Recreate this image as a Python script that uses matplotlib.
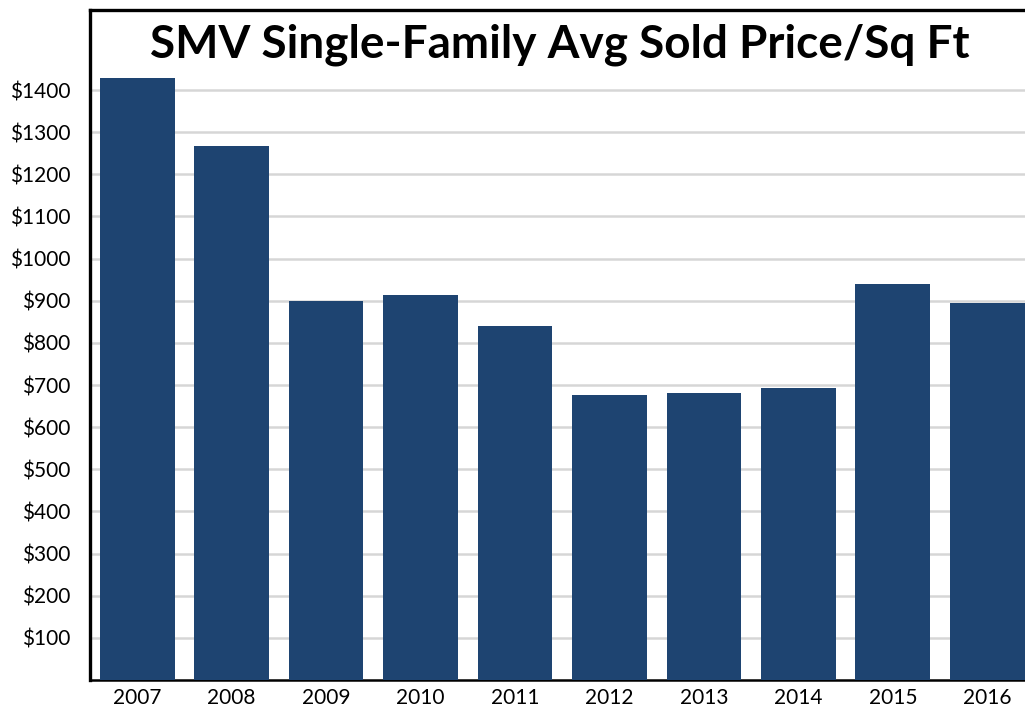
import matplotlib.pyplot as plt

years = ['2007', '2008', '2009', '2010', '2011', '2012', '2013', '2014', '2015', '2016']
price_sqft = [1429, 1267, 900, 914, 840, 676, 681, 693, 940, 895]
y_ticks = [100, 200, 300, 400, 500, 600, 700, 800, 900, 1000, 1100, 1200, 1300, 1400]
y_labels = ['$' + str(v) for v in y_ticks]

plt.rcParams['font.family'] = ['Lato', 'DejaVu Sans']

fig = plt.figure(figsize=(10.25, 7.08), dpi=100)
ax = fig.add_axes([90 / 1025, 28 / 708, 935 / 1025, 670 / 708])

x = range(len(years))
ax.bar(x, price_sqft, width=0.79, color='#1e4471', zorder=3)

ax.set_xlim(-0.5, 9.4)
ax.set_ylim(0, 1590)
ax.set_xticks(list(x))
ax.set_xticklabels(years, fontsize=15)
ax.set_yticks(y_ticks)
ax.set_yticklabels(y_labels, fontsize=15)
ax.tick_params(axis='x', length=0, pad=6)
ax.tick_params(axis='y', length=0, pad=14)
ax.grid(axis='y', color='#d6d6d6', linewidth=1.8, zorder=0)

# frame: heavy left/top, thinner bottom, no right
ax.spines['right'].set_visible(False)
ax.spines['left'].set_linewidth(2.4)
ax.spines['top'].set_linewidth(2.4)
ax.spines['bottom'].set_linewidth(1.8)

ax.text(0.503, 0.948, 'SMV Single-Family Avg Sold Price/Sq Ft', transform=ax.transAxes,
        ha='center', va='center', fontsize=33, fontweight='bold')

fig.savefig('out.png', dpi=100)
